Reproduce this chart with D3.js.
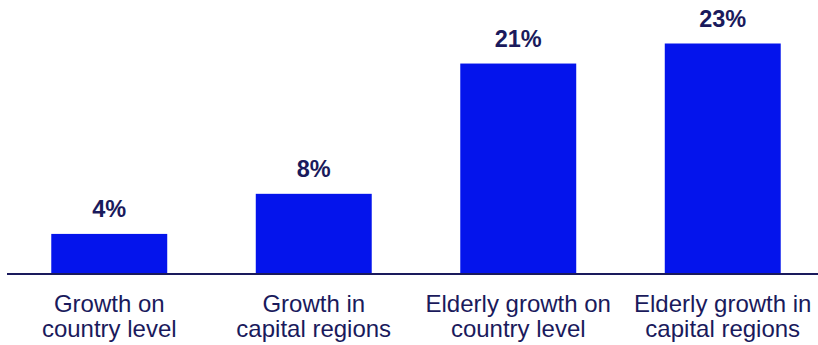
<!DOCTYPE html>
<html>
<head>
<meta charset="utf-8">
<script src="https://cdn.jsdelivr.net/npm/d3@7/dist/d3.min.js"></script>
<style>
  html, body { margin: 0; padding: 0; background: #fff; }
  svg { display: block; }
</style>
</head>
<body>
<svg id="chart" width="818" height="345"></svg>
<script>
// Growth rates, in percent
const categories = [
  ["Growth on", "country level"],
  ["Growth in", "capital regions"],
  ["Elderly growth on", "country level"],
  ["Elderly growth in", "capital regions"]
];
const values = [4, 8, 21, 23];
const valueLabels = ["4%", "8%", "21%", "23%"];

const W = 818, H = 345;
const baseY = 274;
const barColor = "#0414EC";
const textColor = "#1A1A5C";
const font = "'Liberation Sans', Arial, sans-serif";

const svg = d3.select("#chart");

const ids = categories.map((_, i) => i);
const x = d3.scaleBand()
  .domain(ids)
  .range([7, 825])
  .paddingInner(0.433)
  .paddingOuter(0.2165);

const y = d3.scaleLinear()
  .domain([0, 23])
  .range([baseY, baseY - 230.5]);

// bars
svg.append("g")
  .selectAll("rect")
  .data(values)
  .join("rect")
  .attr("x", (d, i) => x(i))
  .attr("width", x.bandwidth())
  .attr("y", d => y(d))
  .attr("height", d => baseY - y(d))
  .attr("fill", barColor);

// baseline
svg.append("line")
  .attr("x1", 7).attr("x2", 818)
  .attr("y1", baseY).attr("y2", baseY)
  .attr("stroke", "#1A1A5C")
  .attr("stroke-width", 2);

// value labels
svg.append("g")
  .selectAll("text")
  .data(values)
  .join("text")
  .attr("x", (d, i) => x(i) + x.bandwidth() / 2)
  .attr("y", d => y(d) - 17)
  .attr("text-anchor", "middle")
  .attr("font-family", font)
  .attr("font-weight", "bold")
  .attr("font-size", 23.5)
  .attr("fill", textColor)
  .text((d, i) => valueLabels[i]);

// category labels (two lines each)
const cat = svg.append("g")
  .selectAll("text")
  .data(categories)
  .join("text")
  .attr("text-anchor", "middle")
  .attr("font-family", font)
  .attr("font-size", 24)
  .attr("fill", textColor);

cat.selectAll("tspan")
  .data((d, i) => d.map((line, j) => ({ line, j, i })))
  .join("tspan")
  .attr("x", d => x(d.i) + x.bandwidth() / 2)
  .attr("y", d => 311.5 + d.j * 25.5)
  .text(d => d.line);
</script>
</body>
</html>
